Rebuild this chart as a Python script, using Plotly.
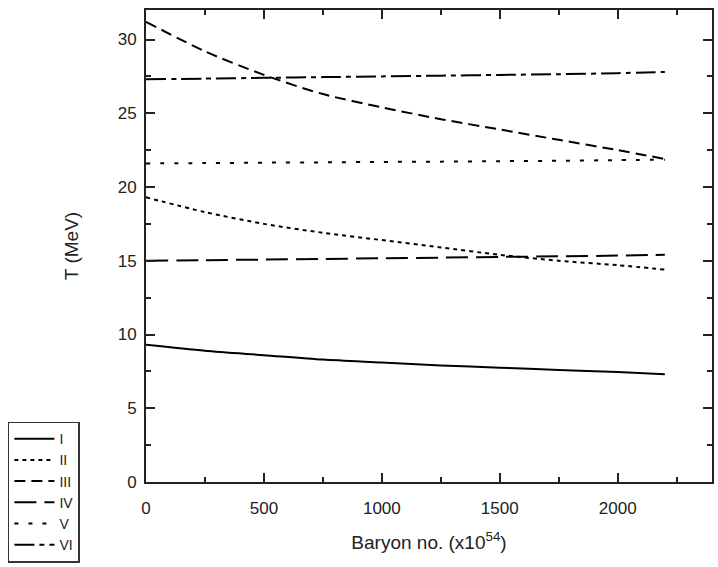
import plotly.graph_objects as go

baryon = [0, 250, 500, 750, 1000, 1250, 1500, 1750, 2000, 2200]
T_I = [9.3, 8.9, 8.6, 8.3, 8.1, 7.9, 7.75, 7.6, 7.45, 7.3]
T_II = [19.3, 18.3, 17.5, 16.9, 16.4, 15.9, 15.4, 15.0, 14.7, 14.4]
T_III = [31.2, 29.2, 27.6, 26.3, 25.4, 24.6, 23.9, 23.2, 22.5, 21.9]
T_IV = [15.0, 15.04, 15.08, 15.12, 15.17, 15.21, 15.26, 15.3, 15.35, 15.4]
T_V = [21.6, 21.62, 21.65, 21.67, 21.7, 21.72, 21.75, 21.78, 21.82, 21.85]
T_VI = [27.3, 27.35, 27.4, 27.45, 27.5, 27.55, 27.6, 27.65, 27.72, 27.8]

names = ["I", "II", "III", "IV", "V", "VI"]
series = [T_I, T_II, T_III, T_IV, T_V, T_VI]
dashes = ["solid", "4px,4px", "11px,6px", "22px,8px", "4px,10px", "20px,5px,5px,5px"]

fig = go.Figure()
for n, s, d in zip(names, series, dashes):
    fig.add_trace(go.Scatter(x=baryon, y=s, mode="lines", name=n,
                             line=dict(color="black", width=2, dash=d, shape="spline", smoothing=0.8)))

font = "Liberation Sans, Arial, sans-serif"
fig.update_layout(
    width=718, height=567,
    margin=dict(l=146, r=6, t=10, b=85, autoexpand=False),
    paper_bgcolor="white", plot_bgcolor="white",
    font=dict(family=font, color="#222", size=17),
    showlegend=True,
    legend=dict(x=-0.244, y=0.128, xanchor="left", yanchor="top",
                bordercolor="#333", borderwidth=1.5, bgcolor="white",
                font=dict(size=14, color="#222"), tracegroupgap=0, itemwidth=40,
                entrywidth=70),
    xaxis=dict(range=[0, 2400], tickvals=[0, 500, 1000, 1500, 2000],
               ticks="inside", ticklen=9, tickwidth=1.5, tickcolor="#222",
               minor=dict(ticks="inside", ticklen=5, tickwidth=1.5, tickcolor="#222", dtick=250),
               showline=True, linecolor="#222", linewidth=2, mirror="allticks",
               showgrid=False, zeroline=False, ticklabelstandoff=10,
               title=dict(text="Baryon no. (x10<sup>54</sup>)", font=dict(size=19, color="#222"), standoff=18)),
    yaxis=dict(range=[0, 32], tickvals=[0, 5, 10, 15, 20, 25, 30],
               ticks="inside", ticklen=9, tickwidth=1.5, tickcolor="#222",
               minor=dict(ticks="inside", ticklen=5, tickwidth=1.5, tickcolor="#222", dtick=2.5),
               showline=True, linecolor="#222", linewidth=2, mirror="allticks",
               showgrid=False, zeroline=False, ticklabelstandoff=4,
               title=dict(text="T (MeV)", font=dict(size=19, color="#222"), standoff=34)),
)
fig.write_html("out.html")
